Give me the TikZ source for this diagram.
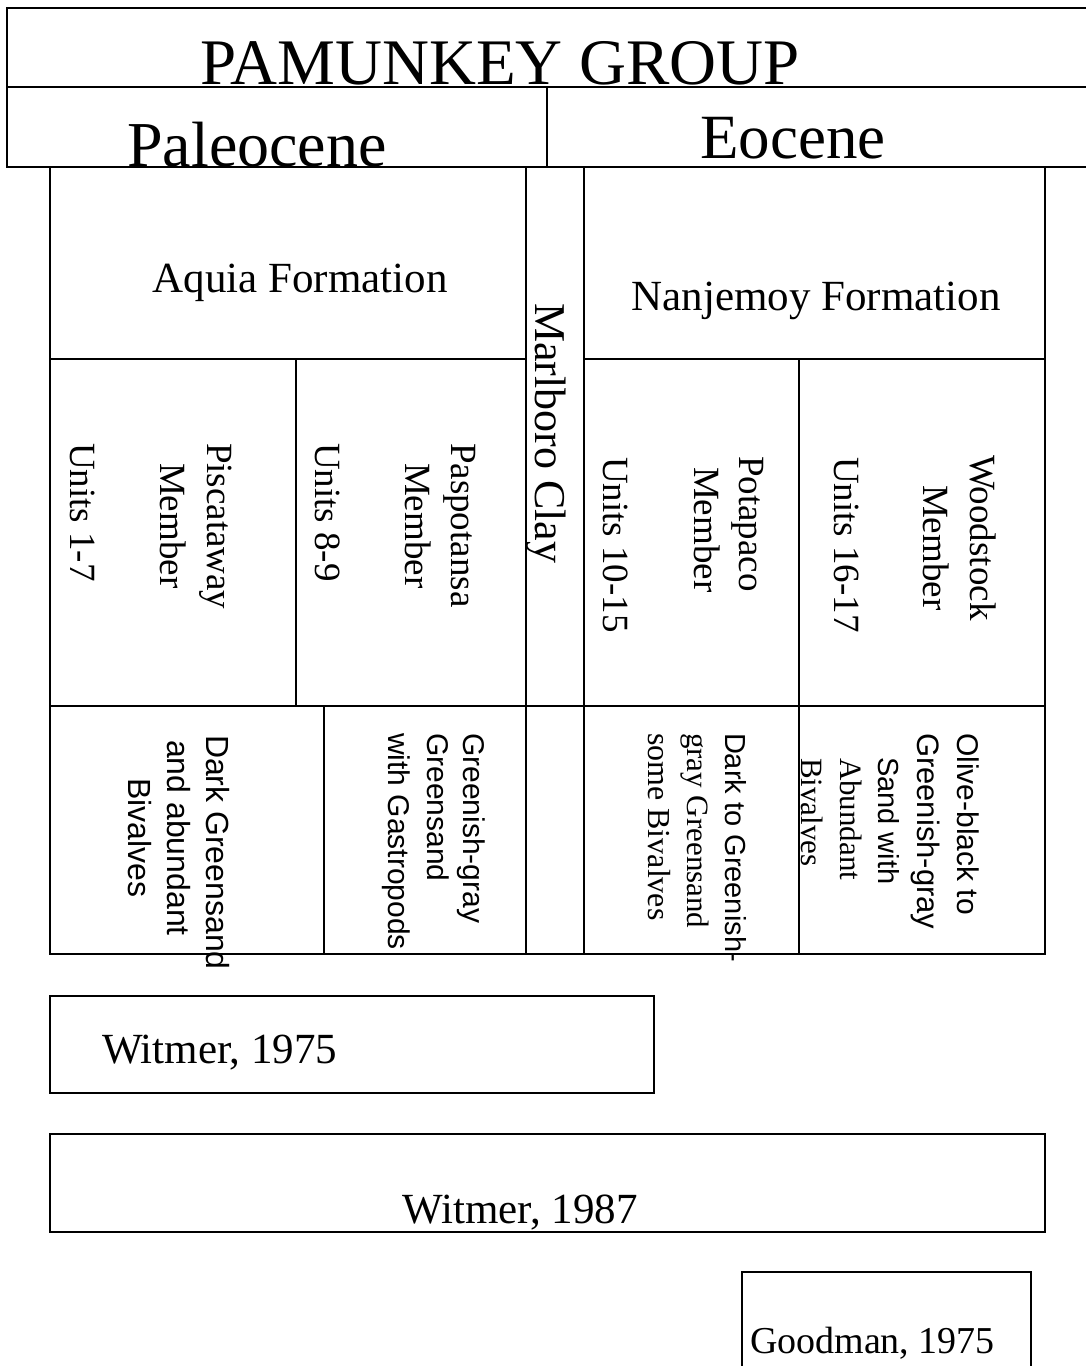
\documentclass[tikz,border=0pt]{standalone}
\usepackage{fontspec}
\setmainfont{Liberation Serif}
\setsansfont{Liberation Sans}
\newcommand{\setfs}[1]{\fontsize{#1}{#1}\selectfont}
\tikzset{
  rule/.style={line width=2.5pt, line cap=rect},
  vt/.style={rotate=-90, anchor=base west, inner sep=0pt, outer sep=0pt},
  ht/.style={anchor=base, inner sep=0pt, outer sep=0pt},
  htw/.style={anchor=base west, inner sep=0pt, outer sep=0pt},
  mem/.style={vt, font=\rmfamily\setfs{37}},
  dsans/.style={vt, font=\sffamily\setfs{#1}},
  dserif/.style={vt, font=\rmfamily\setfs{#1}},
}
\begin{document}
\begin{tikzpicture}[x=1pt, y=-1pt]
\useasboundingbox (0,0) rectangle (1085,1366);
\fill[white] (0,0) rectangle (1085,1366);

% header
\draw[rule] (7,8) -- (1085,8);
\draw[rule] (7,87) -- (1085,87);
\draw[rule] (7,167) -- (1085,167);
\draw[rule] (7,8) -- (7,167);
\draw[rule] (547,87) -- (547,167);

% main table
\draw[rule] (50,167) rectangle (1045,954);
\draw[rule] (526,167) -- (526,954);
\draw[rule] (584,167) -- (584,954);
\draw[rule] (50,359) -- (526,359);
\draw[rule] (584,359) -- (1045,359);
\draw[rule] (50,706) -- (1045,706);
\draw[rule] (296,359) -- (296,706);
\draw[rule] (799,359) -- (799,954);
\draw[rule] (324,706) -- (324,954);

% reference boxes
\draw[rule] (50,996) rectangle (654,1093);
\draw[rule] (50,1134) rectangle (1045,1232);
\draw[rule] (742,1370) -- (742,1272) -- (1031,1272) -- (1031,1370);

% header texts
\node[ht, font=\rmfamily\setfs{65}] (pam) at (500,84) {PAMUNKEY GROUP};
\node[ht, font=\rmfamily\setfs{64}] (pal) at (257,166) {Paleocene};
\node[ht, font=\rmfamily\setfs{63}] (eoc) at (793,158) {Eocene};
\node[ht, font=\rmfamily\setfs{43}] (aquia) at (300,292) {Aquia Formation};
\node[ht, font=\rmfamily\setfs{43}] (nanj) at (816,310) {Nanjemoy Formation};
\node[vt, font=\rmfamily\setfs{44}] (marl) at (535,303) {Marlboro Clay};

% members
\node[mem] (pisc) at (207,443) {Piscataway};
\node[mem] (piscm) at (160,463) {Member};
\node[mem] (u17) at (70,443) {Units 1-7};
\node[mem] (pasp) at (451,443) {Paspotansa};
\node[mem] (paspm) at (405,463) {Member};
\node[mem] (u89) at (315,443) {Units 8-9};
\node[mem] (pota) at (739,456) {Potapaco};
\node[mem] (potam) at (694,467) {Member};
\node[mem] (u1015) at (603,457) {Units 10-15};
\node[mem] (wood) at (970,455) {Woodstock};
\node[mem] (woodm) at (923,485) {Member};
\node[mem] (u1617) at (834,457) {Units 16-17};

% descriptions
\node[dsans=32] (d1a) at (206,735) {Dark Greensand};
\node[dsans=32] (d1b) at (167,740) {and abundant};
\node[dsans=32] (d1c) at (128,778) {Bivalves};

\node[dsans=30] (d2a) at (463,733) {Greenish-gray};
\node[dsans=30] (d2b) at (427,733) {Greensand};
\node[dsans=30] (d2c) at (388,733) {with Gastropods};

\node[dsans=29] (d4a) at (725,733) {Dark to Greenish-};
\node[dserif=31] (d4b) at (687,733) {gray Greensand};
\node[dserif=32] (d4c) at (648,733) {some Bivalves};

\node[dsans=30] (d5a) at (957,733) {Olive-black to};
\node[dsans=31] (d5b) at (917,733) {Greenish-gray};
\node[dsans=29] (d5c) at (878,757) {Sand with};
\node[dserif=31] (d5d) at (840,758) {Abundant};
\node[dserif=31] (d5e) at (801,758) {Bivalves};

% references
\node[htw, font=\rmfamily\setfs{43}] (w75) at (102,1063) {Witmer, 1975};
\node[ht, font=\rmfamily\setfs{43}] (w87) at (520,1223) {Witmer, 1987};
\node[htw, font=\rmfamily\setfs{38}] (g75) at (750,1353) {Goodman, 1975};
\end{tikzpicture}
\end{document}
